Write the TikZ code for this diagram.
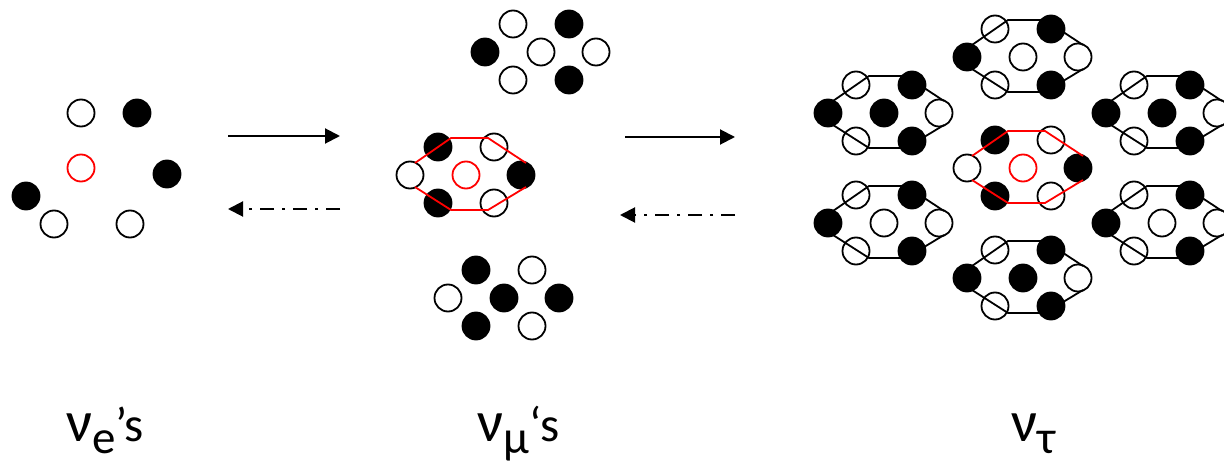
\documentclass[tikz,border=0pt]{standalone}
\usepackage{fontspec}
\setmainfont{Carlito}
\usetikzlibrary{arrows.meta}
\newcommand{\nubig}[1]{{\fontsize{58}{60}\selectfont #1}}
\newcommand{\nulow}[1]{\raisebox{-12pt}{\fontsize{47}{50}\selectfont #1}}
\newcommand{\nutail}[1]{{\fontsize{49}{50}\selectfont #1}}
\begin{document}
\begin{tikzpicture}[x=1pt, y=-1pt,
  wdot/.style={circle, draw=black, line width=1.8pt, minimum size=27pt, inner sep=0pt},
  bdot/.style={wdot, fill=black},
  rdot/.style={wdot, draw=red},
  hexb/.style={draw=black, line width=1.8pt},
  hexr/.style={draw=red, line width=1.8pt},
  flow/.style={line width=2pt, -{Triangle[length=15pt, width=15pt]}},
  back/.style={flow, dash pattern=on 14pt off 8pt on 3pt off 8pt},
  nutext/.style={anchor=base west, inner sep=0pt}]
  \useasboundingbox (0,0) rectangle (1224,462);

  % nu_e: single cells
  \node[wdot] (e1) at (81,113) {};
  \node[bdot] (e2) at (137,113) {};
  \node[rdot] (e0) at (81,168) {};
  \node[bdot] (e3) at (167,174) {};
  \node[bdot] (e4) at (26,196) {};
  \node[wdot] (e5) at (54,224) {};
  \node[wdot] (e6) at (130,224) {};

  % seven-dot groups: name/x/y/TL/TR/L/C/R/BL/BR
  \foreach \n/\x/\y/\a/\b/\c/\d/\e/\f/\g in {
      m1/541/52/wdot/bdot/bdot/wdot/wdot/wdot/bdot,
      m2/466/175/bdot/wdot/wdot/rdot/bdot/bdot/wdot,
      m3/504/298/bdot/wdot/wdot/bdot/bdot/bdot/wdot,
      t0/1023/168/bdot/wdot/wdot/rdot/bdot/bdot/wdot,
      t1/1023/57/wdot/bdot/bdot/wdot/wdot/wdot/bdot,
      t2/884/113/wdot/bdot/bdot/bdot/wdot/wdot/bdot,
      t3/884/223/wdot/bdot/bdot/wdot/wdot/wdot/bdot,
      t4/1023/278/wdot/bdot/bdot/bdot/wdot/wdot/bdot,
      t5/1162/113/wdot/bdot/bdot/bdot/wdot/wdot/bdot,
      t6/1162/223/wdot/bdot/bdot/wdot/wdot/wdot/bdot}{
    \node[\d] (\n-c) at (\x,\y) {};
    \node[\a] (\n-tl) at (\x-28,\y-28) {};
    \node[\b] (\n-tr) at (\x+28,\y-28) {};
    \node[\c] (\n-l) at (\x-56,\y) {};
    \node[\e] (\n-r) at (\x+55,\y) {};
    \node[\f] (\n-bl) at (\x-28,\y+28) {};
    \node[\g] (\n-br) at (\x+28,\y+28) {};
  }

  % hexagon outlines (open at the sides)
  \foreach \n/\h in {m2/hexr, t0/hexr, t1/hexb, t2/hexb, t3/hexb, t4/hexb, t5/hexb, t6/hexb}{
    \draw[\h] ([shift={(-51,-12)}]\n-c.center) -- ([shift={(-15,-37)}]\n-c.center)
      -- ([shift={(22,-37)}]\n-c.center) -- ([shift={(60,-12)}]\n-c.center);
    \draw[\h] ([shift={(-51,12)}]\n-c.center) -- ([shift={(-15,35)}]\n-c.center)
      -- ([shift={(22,35)}]\n-c.center) -- ([shift={(60,12)}]\n-c.center);
  }

  % arrows
  \coordinate (a1s) at (228,136);
  \coordinate (a1e) at (340,136);
  \coordinate (b1s) at (340,209);
  \coordinate (b1e) at (228,209);
  \coordinate (a2s) at (625,137);
  \coordinate (a2e) at (735,137);
  \coordinate (b2s) at (735,215);
  \coordinate (b2e) at (620,215);
  \draw[flow] (a1s) -- (a1e);
  \draw[back] (b1s) -- (b1e);
  \draw[flow] (a2s) -- (a2e);
  \draw[back] (b2s) -- (b2e);

  % labels
  \node[nutext] (lab-e) at (66,441) {\nubig{ν}\nulow{e}\nutail{’s}};
  \node[nutext] (lab-mu) at (477,441) {\nubig{ν}\nulow{μ}\nutail{‘s}};
  \node[nutext] (lab-tau) at (1011,441) {\nubig{ν}\nulow{τ}};
\end{tikzpicture}
\end{document}
